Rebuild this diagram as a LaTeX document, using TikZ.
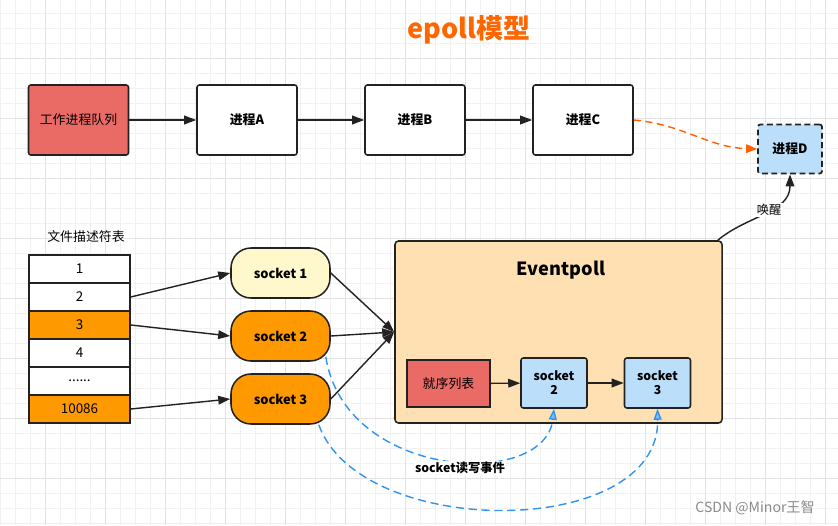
\documentclass[tikz,border=0pt]{standalone}
\usepackage{fontspec}
\setmainfont{Noto Sans CJK SC}
\usetikzlibrary{arrows.meta}
\definecolor{gridminor}{HTML}{F1F1F1}
\definecolor{gridmajor}{HTML}{E2E2E2}
\definecolor{boxline}{HTML}{222222}
\definecolor{queuered}{HTML}{EA6B66}
\definecolor{sockyellow}{HTML}{FFF8CC}
\definecolor{sockorange}{HTML}{FF9900}
\definecolor{eppeach}{HTML}{FFE0B2}
\definecolor{sockblue}{HTML}{BBDEFB}
\definecolor{evblue}{HTML}{2F93F0}
\definecolor{wakeorange}{HTML}{FF5F00}
\definecolor{titleorange}{HTML}{FF6600}
\definecolor{wmgray}{HTML}{8A8A8A}
\newcommand\sixdots{......}
\begin{document}
\begin{tikzpicture}[x=0.03cm,y=-0.03cm,
    procbox/.style={draw=boxline,line width=1.3pt,rounded corners=2pt,fill=white,
        minimum width=3cm,minimum height=2.1cm,font=\fontsize{11}{13}\selectfont\bfseries},
    redbox/.style={procbox,fill=queuered,font=\fontsize{11}{13}\selectfont},
    fdrow/.style={draw=boxline,line width=1.2pt,minimum width=3.03cm,minimum height=0.84cm,
        font=\fontsize{11.5}{13}\selectfont},
    sockbox/.style={draw=boxline,line width=1.3pt,rounded corners=0.6cm,minimum width=2.97cm,
        minimum height=1.5cm,font=\fontsize{11}{12}\selectfont\bfseries},
    smallsock/.style={draw=boxline,line width=1.3pt,rounded corners=2pt,fill=sockblue,
        minimum width=1.98cm,minimum height=1.5cm,align=center,
        font=\fontsize{10.5}{12}\selectfont\bfseries},
    arr/.style={draw=boxline,line width=1.2pt,-{Triangle[length=0.36cm,width=0.26cm]}},
    orangedash/.style={draw=wakeorange,dash pattern=on 6pt off 4pt,
        -{Triangle[length=0.33cm,width=0.26cm,fill=wakeorange]}},
    bluearr/.style={draw=evblue,line width=1.2pt,dash pattern=on 7pt off 4pt,
        -{Triangle[length=0.33cm,width=0.24cm,fill=evblue!60]}},
    tag/.style={fill=white,inner sep=1pt,font=\fontsize{10.5}{12}\selectfont}]
    \useasboundingbox (0,0) rectangle (838,525);
    % background grid
    \foreach \x in {0,15,...,835} \draw[gridminor,line width=0.6pt] (\x,0)--(\x,525);
    \foreach \y in {13,28,...,523} \draw[gridminor,line width=0.6pt] (0,\y)--(838,\y);
    \foreach \x in {45,105,...,835} \draw[gridmajor,line width=0.6pt] (\x,0)--(\x,525);
    \foreach \y in {58,118,...,523} \draw[gridmajor,line width=0.6pt] (0,\y)--(838,\y);

    \node[font=\fontsize{23}{26}\selectfont\bfseries,text=titleorange] (title) at (469,30) {epoll模型};

    % process queue
    \node[redbox] (queue) at (78.5,120) {工作进程队列};
    \node[procbox] (pA) at (247,120) {进程A};
    \node[procbox] (pB) at (415,120) {进程B};
    \node[procbox] (pC) at (583,120) {进程C};
    \node[procbox,fill=sockblue,dash pattern=on 5pt off 3pt,line width=1.5pt,minimum width=1.92cm,
        minimum height=1.47cm] (pD) at (790,149) {进程D};
    \draw[arr] (queue) -- (pA);
    \draw[arr] (pA) -- (pB);
    \draw[arr] (pB) -- (pC);
    \draw[line width=1.2pt,orangedash] (pC.east) to[out=-5,in=178] (pD.west);

    % file descriptor table
    \node[font=\fontsize{11}{13}\selectfont] (fdtitle) at (86,237) {文件描述符表};
    \foreach \t/\c [count=\i] in {1/white,2/white,3/sockorange,4/white,\sixdots/white,10086/sockorange}
        \node[fdrow,fill=\c] (fd\i) at (79.5,{241+28*\i}) {\t};

    % sockets
    \node[sockbox,fill=sockyellow] (s1) at (280.5,273) {socket 1};
    \node[sockbox,fill=sockorange] (s2) at (280.5,336) {socket 2};
    \node[sockbox,fill=sockorange] (s3) at (280.5,399) {socket 3};
    \draw[arr] (fd2.east) -- (s1.west);
    \draw[arr] (fd3.east) -- (s2.west);
    \draw[arr] (fd6.east) -- (s3.west);

    % eventpoll
    \node[draw=boxline,line width=1.3pt,fill=eppeach,rounded corners=3pt,minimum width=9.81cm,
        minimum height=5.46cm] (ep) at (558.5,332) {};
    \node[font=\fontsize{15.5}{18}\selectfont\bfseries] (eptitle) at (561,270) {Eventpoll};
    \node[redbox,rounded corners=0pt,minimum width=2.49cm,minimum height=1.41cm] (ready) at (448.5,383.5) {就序列表};
    \node[smallsock] (ss2) at (554,383) {socket\\2};
    \node[smallsock] (ss3) at (657.5,383) {socket\\3};
    \draw[arr] (ready) -- (ss2);
    \draw[arr] (ss2) -- (ss3);
    \draw[arr] (s1.east) -- (ep.west);
    \draw[arr] (s2.east) -- (ep.west);
    \draw[arr] (s3.east) -- (ep.west);

    % wake up
    \draw[arr] ([xshift=-0.15cm]ep.north east) to[out=40,in=-90] node[tag,pos=0.55] (wake) {唤醒} (pD.south);

    % read / write events
    \draw[bluearr] ([xshift=-0.15cm,yshift=0.15cm]s2.south east) .. controls (345,480) and (545,490) .. (ss2.south);
    \draw[bluearr] ([xshift=-0.36cm]s3.south east) .. controls (360,540) and (660,540) .. (ss3.south);
    \node[tag,font=\fontsize{10.5}{12}\selectfont\bfseries] (rw) at (460,468) {socket读写事件};

    \node[text=wmgray,font=\fontsize{12}{14}\selectfont] (wm) at (755,508) {CSDN @Minor王智};
\end{tikzpicture}
\end{document}
